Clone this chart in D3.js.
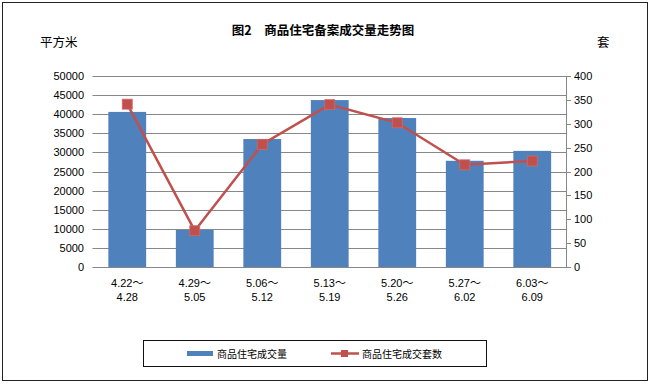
<!DOCTYPE html>
<html>
<head>
<meta charset="utf-8">
<script src="https://cdn.jsdelivr.net/npm/d3@7"></script>
<style>
  body { margin: 0; background: #fff; }
  text { font-family: 'Noto Sans CJK SC', 'DejaVu Sans', sans-serif; }
  text.num { font-family: 'Liberation Sans', 'Noto Sans CJK SC', sans-serif; }
</style>
</head>
<body>
<div id="drawer"></div>
<script>
var periods = [["4.22～", "4.28"], ["4.29～", "5.05"], ["5.06～", "5.12"], ["5.13～", "5.19"],
               ["5.20～", "5.26"], ["5.27～", "6.02"], ["6.03～", "6.09"]];
var areaSold = [40600, 9700, 33500, 43700, 39000, 27800, 30400];
var unitsSold = [341, 76, 257, 340, 302, 214, 222];
var leftTicks = [0, 5000, 10000, 15000, 20000, 25000, 30000, 35000, 40000, 45000, 50000];
var rightTicks = [0, 50, 100, 150, 200, 250, 300, 350, 400];

var w = 651, h = 384;
var palette = { bar: "#4F81BD", line: "#C0504D", grid: "#878787", text: "#000" };

var svg = d3.select("#drawer").append("svg")
  .attr("width", w).attr("height", h);

// outer frame
svg.append("rect")
  .attr("x", 2.5).attr("y", 2.5).attr("width", 645).attr("height", 378)
  .style("fill", "none").style("stroke", "#222");

var plotL = 93.5, plotR = 566, plotT = 76, plotB = 267;

var x = d3.scaleBand().domain(d3.range(periods.length)).range([plotL, plotR]).paddingInner(0.44).paddingOuter(0.22);
var yL = d3.scaleLinear().domain([0, 50000]).range([plotB, plotT]);
var yR = d3.scaleLinear().domain([0, 400]).range([plotB, plotT]);

// gridlines + left labels
svg.selectAll(".grid").data(leftTicks).enter().append("line")
  .attr("x1", plotL - 1).attr("x2", plotR)
  .attr("y1", function(d) { return Math.round(yL(d)) + 0.5; })
  .attr("y2", function(d) { return Math.round(yL(d)) + 0.5; })
  .style("stroke", palette.grid).style("stroke-width", 1);

svg.selectAll(".ltick").data(leftTicks).enter().append("text")
  .attr("class", "num")
  .attr("x", 84).attr("y", function(d) { return yL(d) + 4; })
  .attr("text-anchor", "end").style("font-size", "11px")
  .text(function(d) { return d; });

// right axis
svg.append("line")
  .attr("x1", plotR + 0.5).attr("x2", plotR + 0.5).attr("y1", plotT).attr("y2", plotB + 0.5)
  .style("stroke", palette.grid);
svg.selectAll(".rtickline").data(rightTicks).enter().append("line")
  .attr("x1", plotR).attr("x2", plotR + 5)
  .attr("y1", function(d) { return Math.round(yR(d)) + 0.5; })
  .attr("y2", function(d) { return Math.round(yR(d)) + 0.5; })
  .style("stroke", palette.grid);
svg.selectAll(".rtick").data(rightTicks).enter().append("text")
  .attr("class", "num")
  .attr("x", 574).attr("y", function(d) { return yR(d) + 4; })
  .style("font-size", "11px")
  .text(function(d) { return d; });

// bars
svg.selectAll(".bar").data(areaSold).enter().append("rect")
  .attr("x", function(d, i) { return x(i); })
  .attr("width", x.bandwidth())
  .attr("y", function(d) { return yL(d); })
  .attr("height", function(d) { return plotB - yL(d); })
  .style("fill", palette.bar);

// x labels, two lines each
[0, 1].forEach(function(k) {
  svg.selectAll(".xl" + k).data(periods).enter().append("text")
    .attr("class", "num")
    .attr("text-anchor", "middle").style("font-size", "11px")
    .attr("x", function(d, i) { return x(i) + x.bandwidth() / 2; })
    .attr("y", 287 + k * 14)
    .text(function(d) { return d[k]; });
});

// line
var line = d3.line()
  .x(function(d, i) { return x(i) + x.bandwidth() / 2; })
  .y(function(d) { return yR(d); });
svg.append("path").datum(unitsSold)
  .attr("d", line)
  .style("fill", "none").style("stroke", palette.line).style("stroke-width", 2.5);
svg.selectAll(".mk").data(unitsSold).enter().append("rect")
  .attr("x", function(d, i) { return x(i) + x.bandwidth() / 2 - 5; })
  .attr("y", function(d) { return yR(d) - 5; })
  .attr("width", 10).attr("height", 10)
  .style("fill", palette.line).style("stroke", "#d06a67").style("stroke-width", 0.8);

// titles
svg.append("text").attr("x", 323).attr("y", 35).attr("text-anchor", "middle")
  .style("font-size", "12.5px").style("font-weight", "bold")
  .text("图2\u3000商品住宅备案成交量走势图");
svg.append("text").attr("x", 40).attr("y", 47).style("font-size", "12.5px").text("平方米");
svg.append("text").attr("x", 597).attr("y", 47).style("font-size", "12.5px").text("套");

// legend
var lg = svg.append("g");
lg.append("rect").attr("x", 143.5).attr("y", 340.5).attr("width", 343).attr("height", 26)
  .style("fill", "none").style("stroke", "#111");
lg.append("rect").attr("x", 187).attr("y", 351).attr("width", 26).attr("height", 5).style("fill", palette.bar);
lg.append("text").attr("x", 217).attr("y", 357.5).style("font-size", "10px").text("商品住宅成交量");
lg.append("line").attr("x1", 331).attr("x2", 359).attr("y1", 353.5).attr("y2", 353.5)
  .style("stroke", palette.line).style("stroke-width", 2.5);
lg.append("rect").attr("x", 341).attr("y", 350).attr("width", 7).attr("height", 7).style("fill", palette.line);
lg.append("text").attr("x", 362).attr("y", 357.5).style("font-size", "10px").text("商品住宅成交套数");
</script>
</body>
</html>
